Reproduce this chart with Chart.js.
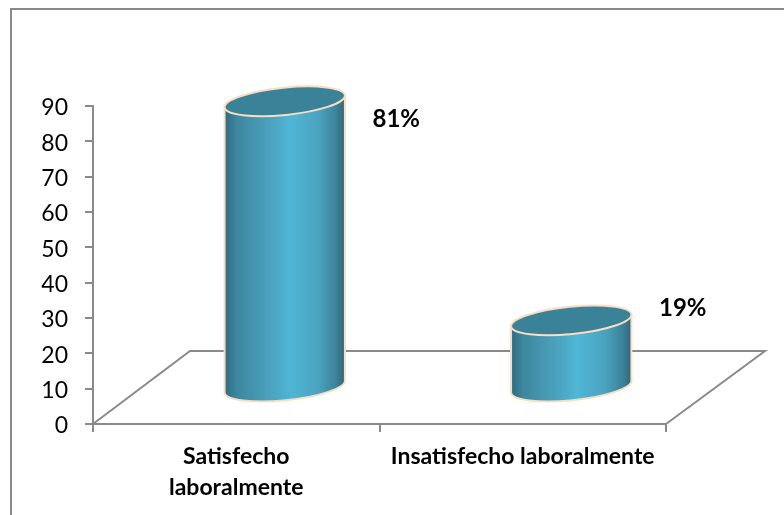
<!DOCTYPE html>
<html>
<head>
<meta charset="utf-8">
<script src="https://cdn.jsdelivr.net/npm/chart.js@4"></script>
<style>
  html, body { margin: 0; padding: 0; background: #fff; }
  #wrap { position: relative; width: 784px; height: 515px; }
</style>
</head>
<body>
<div id="wrap"><canvas id="myChart" width="784" height="515"></canvas></div>
<script>
const categories = [["Satisfecho", "laboralmente"], "Insatisfecho laboralmente"];
const values = [81, 19];
const yTicks = [0, 10, 20, 30, 40, 50, 60, 70, 80, 90];

const lineGray = '#8a8a8a';
const depthX = 97, depthY = 73;   // floor depth of the fake 3D box

// frame + floor of the box, behind the cylinders
const floorPlugin = {
    id: 'floor',
    beforeDatasetsDraw(chart) {
        const { ctx, chartArea: a } = chart;
        ctx.save();
        ctx.strokeStyle = lineGray;
        ctx.lineWidth = 2;
        ctx.beginPath();
        ctx.moveTo(11, 515);
        ctx.lineTo(11, 9);
        ctx.lineTo(784, 9);
        ctx.stroke();
        ctx.beginPath();
        ctx.moveTo(a.left, a.bottom);
        ctx.lineTo(a.left + depthX, a.bottom - depthY);
        ctx.lineTo(a.right + depthX + 2, a.bottom - depthY);
        ctx.lineTo(a.right, a.bottom);
        ctx.stroke();
        ctx.restore();
    }
};

// draws each bar as a cylinder standing in the middle of the floor
const cylinderPlugin = {
    id: 'cylinder',
    afterDatasetsDraw(chart) {
        const { ctx } = chart;
        const bars = chart.getDatasetMeta(0).data;
        const tilt = -0.1, minor = 13.7;
        bars.forEach(bar => {
            const cx = bar.x + depthX / 2;
            const top = bar.y - depthY / 2;
            const bottom = bar.base - depthY / 2;
            const major = bar.width / 2 / Math.cos(tilt);
            const dx = bar.width / 2, dy = dx * Math.tan(tilt);

            const grad = ctx.createLinearGradient(cx - dx, 0, cx + dx, 0);
            grad.addColorStop(0, '#2f6b80');
            grad.addColorStop(0.1, '#3d879f');
            grad.addColorStop(0.35, '#4a9fba');
            grad.addColorStop(0.55, '#50b6d6');
            grad.addColorStop(0.78, '#4aa3bf');
            grad.addColorStop(0.93, '#3c8199');
            grad.addColorStop(1, '#2f6678');

            ctx.save();
            ctx.beginPath();
            ctx.moveTo(cx - dx, top - dy);
            ctx.lineTo(cx - dx, bottom - dy);
            ctx.ellipse(cx, bottom, major, minor, tilt, Math.PI, 0, true);
            ctx.lineTo(cx + dx, top + dy);
            ctx.closePath();
            ctx.fillStyle = grad;
            ctx.fill();
            ctx.strokeStyle = '#fadcc3';
            ctx.lineWidth = 2;
            ctx.stroke();

            ctx.beginPath();
            ctx.ellipse(cx, top, major, minor, tilt, 0, Math.PI * 2);
            ctx.fillStyle = '#3a8298';
            ctx.fill();
            ctx.stroke();
            ctx.restore();
        });
    }
};

// the percent labels sit off to the right of each cylinder
const percentPlugin = {
    id: 'percent',
    afterDraw(chart) {
        const { ctx } = chart;
        const bars = chart.getDatasetMeta(0).data;
        const lift = [19, 49];
        ctx.save();
        ctx.font = 'bold 24px Lato';
        ctx.fillStyle = '#000';
        ctx.textAlign = 'center';
        ctx.textBaseline = 'middle';
        bars.forEach((bar, i) => {
            ctx.fillText(values[i] + '%', bar.x + 160, bar.y - lift[i]);
        });
        ctx.restore();
    }
};

const ctx = document.getElementById('myChart').getContext('2d');
new Chart(ctx, {
    type: 'bar',
    data: {
        labels: categories,
        datasets: [{
            data: values,
            backgroundColor: 'rgba(0,0,0,0)',
            barPercentage: 0.42,
            categoryPercentage: 1
        }]
    },
    options: {
        responsive: false,
        animation: false,
        layout: { padding: { left: 20, right: 118, top: 106, bottom: 0 } },
        plugins: {
            legend: { display: false },
            tooltip: { enabled: false }
        },
        scales: {
            x: {
                grid: { drawOnChartArea: false, color: lineGray, tickLength: 8, lineWidth: 2 },
                border: { color: lineGray, width: 2 },
                ticks: {
                    color: '#000',
                    font: { family: 'Lato', size: 23, weight: 'bold', lineHeight: 1.35 },
                    maxRotation: 0,
                    autoSkip: false,
                    padding: 9
                },
                afterFit(axis) { axis.height = 91; }
            },
            y: {
                min: 0,
                max: 90,
                afterBuildTicks(axis) { axis.ticks = yTicks.map(v => ({ value: v })); },
                grid: { drawOnChartArea: false, color: lineGray, tickLength: 8, lineWidth: 2 },
                border: { color: lineGray, width: 2 },
                ticks: {
                    color: '#000',
                    font: { family: 'Lato', size: 23 },
                    padding: 17,
                    labelOffset: 2
                },
                afterFit(axis) { axis.width = 73; }
            }
        }
    },
    plugins: [floorPlugin, cylinderPlugin, percentPlugin]
});
</script>
</body>
</html>
